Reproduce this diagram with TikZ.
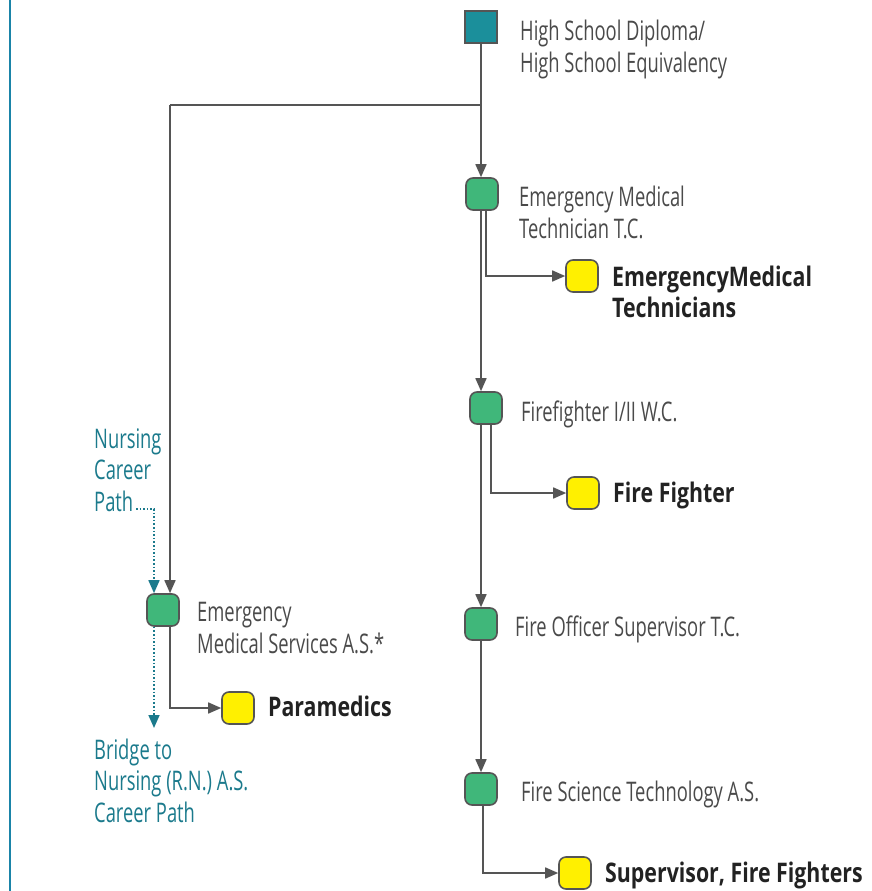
\documentclass[tikz,border=0pt]{standalone}
\usepackage{fontspec}
\setmainfont{Open Sans}[FakeStretch=0.68]
\newfontfamily\bfam{Open Sans}[FakeStretch=0.79]
\usetikzlibrary{arrows.meta}
\definecolor{lineg}{HTML}{555555}
\definecolor{txtg}{HTML}{4A4A4A}
\definecolor{boldg}{HTML}{222222}
\definecolor{tealtxt}{HTML}{1B7A8C}
\definecolor{tealbox}{HTML}{1B8F9B}
\definecolor{greenbox}{HTML}{40B77A}
\definecolor{yellowbox}{HTML}{FFF000}
\definecolor{bordert}{HTML}{1A84A8}
\tikzset{
  box/.style={draw=lineg, line width=1.6pt, minimum size=32pt, inner sep=0pt, rounded corners=7pt},
  gbox/.style={box, fill=greenbox},
  ybox/.style={box, fill=yellowbox},
  sqbox/.style={draw=lineg, line width=1.6pt, minimum size=32pt, inner sep=0pt, fill=tealbox},
  lab/.style={anchor=base west, inner sep=0pt, text=txtg, font=\fontsize{27}{31.5}\selectfont, align=left},
  blab/.style={anchor=base west, inner sep=0pt, text=boldg, font=\fontsize{27}{31}\selectfont\bfam\bfseries, align=left},
  tlab/.style={anchor=base west, inner sep=0pt, text=tealtxt, font=\fontsize{27}{31.5}\selectfont, align=left},
  conn/.style={draw=lineg, line width=1.6pt, -{Triangle[length=13pt,width=11pt]}},
  dconn/.style={draw=tealtxt, line width=1.6pt, dotted, -{Triangle[length=13pt,width=11pt]}},
}
\begin{document}
\begin{tikzpicture}[x=1pt,y=-1pt]
\useasboundingbox (0,0) rectangle (871,891);
\draw[bordert, line width=2.2pt] (10,0) -- (10,891);
% boxes
\node[sqbox] (hs) at (481,27) {};
\node[gbox] (emt) at (482,194) {};
\node[ybox] (emty) at (582,276) {};
\node[gbox] (ff) at (486,408) {};
\node[ybox] (ffy) at (583,493) {};
\node[gbox] (fo) at (481,624) {};
\node[gbox] (fs) at (481,789) {};
\node[ybox] (sfy) at (575,873) {};
\node[gbox] (ems) at (163,610) {};
\node[ybox] (par) at (238,708) {};
% labels (anchor = baseline of last line)
\node[lab] (hst) at (520,72) {High School Diploma/\\High School Equivalency};
\node[lab] (emtt) at (519,238) {Emergency Medical\\Technician T.C.};
\node[blab] (emtyt) at (612,317) {EmergencyMedical\\Technicians};
\node[lab] (fft) at (521,421) {Firefighter I/II W.C.};
\node[blab] (ffyt) at (613,502) {Fire Fighter};
\node[lab] (fot) at (515,636) {Fire Officer Supervisor T.C.};
\node[lab] (fst) at (521,801) {Fire Science Technology A.S.};
\node[blab] (sfyt) at (605,882) {Supervisor, Fire Fighters};
\node[lab] (emst) at (197,653) {Emergency\\Medical Services A.S.*};
\node[blab] (part) at (268,716) {Paramedics};
\node[tlab] (nurs) at (94,511) {Nursing\\Career\\Path};
\node[tlab] (brdg) at (94,822) {Bridge to\\Nursing (R.N.) A.S.\\Career Path};
% coordinates
\coordinate (branch) at (481,105);
\coordinate (bend) at (170,105);
\coordinate (dotstart) at (136,509);
\coordinate (dotend) at (154,728);
% connectors
\draw[conn] (hs.south) -- (hs.south |- emt.north);
\draw[draw=lineg, line width=1.6pt] (branch) -- (bend);
\draw[conn] (bend) -- (bend |- ems.north);
\draw[conn] ([xshift=4pt]emt.south) |- (emty.west);
\draw[conn] ([xshift=-1pt]emt.south) -- ([xshift=-1pt]emt.south |- ff.north);
\draw[conn] ([xshift=5pt]ff.south) |- (ffy.west);
\draw[conn] (fo.north |- ff.south) -- (fo.north);
\draw[conn] (fo.south) -- (fs.north);
\draw[conn] ([xshift=2pt]fs.south) |- (sfy.west);
\draw[conn] ([xshift=7pt]ems.south) |- (par.west);
\draw[dconn] (dotstart) -| ([xshift=-9pt]ems.north);
\draw[dconn] ([xshift=-9pt]ems.south) -- (dotend);
\end{tikzpicture}
\end{document}
